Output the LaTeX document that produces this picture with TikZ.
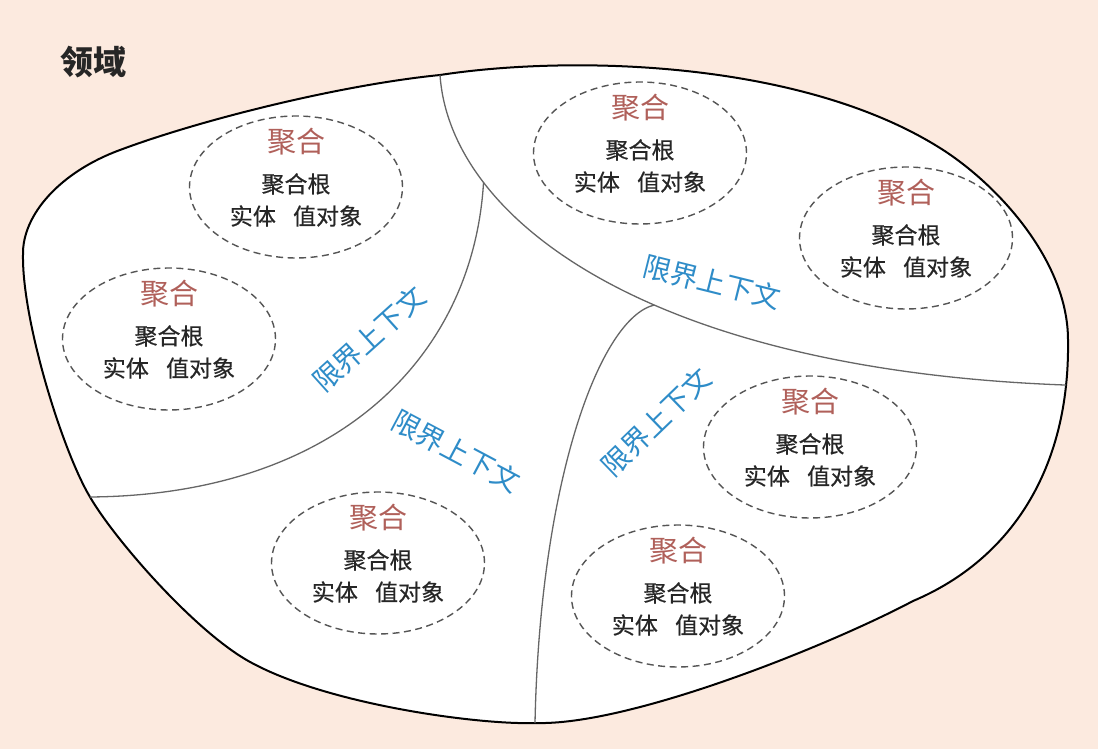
\documentclass[tikz,border=0pt]{standalone}
\usepackage{fontspec}
\setmainfont{Noto Sans CJK SC}
\newfontfamily\cjk{Noto Sans CJK SC}
\newfontfamily\cjkm[FakeBold=0.45]{Noto Sans CJK SC}
\usetikzlibrary{shapes.geometric,calc}
\definecolor{bg}{HTML}{FCEADF}
\definecolor{aggred}{HTML}{B0605A}
\definecolor{bcblue}{HTML}{2E8CC8}
\definecolor{txt}{HTML}{262626}
\definecolor{ln}{HTML}{555555}
\definecolor{dv}{HTML}{666666}
\tikzset{
  aggshape/.style={draw=ln, dash pattern=on 7pt off 4.5pt, line width=1.4pt, ellipse,
    minimum width=213pt, minimum height=142pt, inner sep=0pt},
  aggtitle/.style={text=aggred, font=\cjk\fontsize{29}{32}\selectfont, inner sep=0pt},
  aggbody/.style={text=txt, font=\cjkm\fontsize{23}{26}\selectfont, inner sep=0pt},
  bclabel/.style={text=bcblue, font=\cjk\fontsize{28}{30}\selectfont, inner sep=0pt},
  domaintitle/.style={text=txt, font=\cjk\bfseries\fontsize{33}{36}\selectfont, inner sep=0pt},
  boundary/.style={draw=black, line width=2pt, fill=white},
  divider/.style={draw=dv, line width=1.3pt},
}
\newcommand\aggnode[3]{%
  \node[aggshape] (#1) at (#2,#3) {};
  \node[aggtitle] (#1t) at ($(#1)+(0,-45)$) {聚合};
  \node[aggbody] (#1r) at ($(#1)+(0,-3)$) {聚合根};
  \node[aggbody] (#1e) at ($(#1)+(0,29)$) {实体\hspace{0.75em}值对象};
}
\begin{document}
\begin{tikzpicture}[x=1pt,y=-1pt]
\fill[bg] (0,0) rectangle (1098,749);
\useasboundingbox (0,0) rectangle (1098,749);
\node[domaintitle] (domain) at (93,62) {领域};
\draw[boundary]
  (23,255) .. controls (22,215) and (60,172) .. (120,150)
  .. controls (200,120) and (340,85) .. (440,75) coordinate (b1)
  .. controls (570,55) and (800,60) .. (940,148)
  .. controls (996,183) and (1068,260) .. (1068,340)
  .. controls (1070,470) and (1010,560) .. (913,601) coordinate[pos=0.12] (b2)
  .. controls (830,645) and (630,726) .. (535,723) coordinate (b3)
  .. controls (480,725) and (330,705) .. (252,663)
  .. controls (197,634) and (115,540) .. (90,497) coordinate (b4)
  .. controls (62,450) and (22,320) .. (23,255) -- cycle;
\draw[divider] (b1) .. controls (450,220) and (650,370) .. (b2)
  coordinate[pos=0.25] (j1) coordinate[pos=0.58] (j2);
\draw[divider] (j1) .. controls (473,358) and (336,495) .. (b4);
\draw[divider] (j2) .. controls (600,318) and (540,480) .. (b3);
\aggnode{aA}{296}{187}
\aggnode{aB}{169}{339}
\aggnode{aC}{640}{153}
\aggnode{aD}{906}{238}
\aggnode{aE}{810}{447}
\aggnode{aF}{378}{563}
\aggnode{aG}{678}{596}
\node[bclabel, rotate=42] (bc1) at (369,339) {限界上下文};
\node[bclabel, rotate=-14] (bc2) at (712,282) {限界上下文};
\node[bclabel, rotate=-28] (bc3) at (456,451) {限界上下文};
\node[bclabel, rotate=44] (bc4) at (656,422) {限界上下文};
\end{tikzpicture}
\end{document}
